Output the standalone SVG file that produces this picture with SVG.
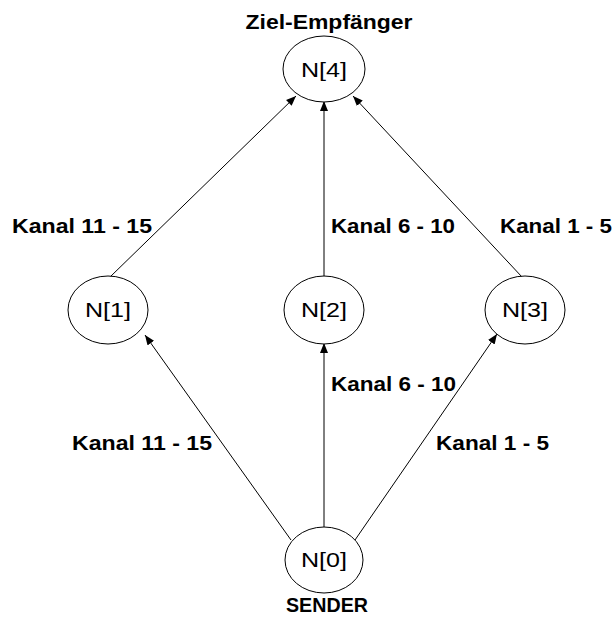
<svg xmlns="http://www.w3.org/2000/svg" width="614" height="617" viewBox="0 0 614 617">
  <style>
    .node ellipse { fill: #ffffff; stroke: #000000; stroke-width: 1; }
    .nlabel { font-family: "Liberation Sans", Arial, sans-serif; font-size: 21px; fill: #000000; text-anchor: middle; }
    .lbl { font-family: "Liberation Sans", Arial, sans-serif; font-size: 21px; font-weight: bold; fill: #000000; }
    .edges line { stroke: #000000; stroke-width: 1; marker-end: url(#arrow); }
  </style>
  <defs>
    <marker id="arrow" viewBox="0 0 10 10" refX="10" refY="5" markerWidth="10" markerHeight="10" markerUnits="userSpaceOnUse" orient="auto">
      <path d="M0,1 L10,5 L0,9 z" fill="#000000"/>
    </marker>
  </defs>
  <rect width="614" height="617" fill="#ffffff"/>

  <!-- connectors -->
  <g id="edges" class="edges">
    <line x1="291" y1="540" x2="145" y2="335"/>
    <line x1="324" y1="527" x2="324" y2="343"/>
    <line x1="355" y1="540" x2="497" y2="334"/>
    <line x1="110" y1="277" x2="296" y2="96"/>
    <line x1="324" y1="277" x2="324" y2="101"/>
    <line x1="522" y1="277" x2="353" y2="96"/>
  </g>

  <!-- edge labels -->
  <g id="labels">
    <text class="lbl" x="12" y="233" textLength="140" lengthAdjust="spacingAndGlyphs">Kanal 11 - 15</text>
    <text class="lbl" x="331" y="233" textLength="124" lengthAdjust="spacingAndGlyphs">Kanal 6 - 10</text>
    <text class="lbl" x="500" y="233" textLength="112" lengthAdjust="spacingAndGlyphs">Kanal 1 - 5</text>
    <text class="lbl" x="331" y="391" textLength="125" lengthAdjust="spacingAndGlyphs">Kanal 6 - 10</text>
    <text class="lbl" x="72" y="450" textLength="140" lengthAdjust="spacingAndGlyphs">Kanal 11 - 15</text>
    <text class="lbl" x="436" y="450" textLength="113" lengthAdjust="spacingAndGlyphs">Kanal 1 - 5</text>
  </g>

  <g id="n4" class="node">
    <text class="lbl" x="329" y="29" text-anchor="middle" textLength="167" lengthAdjust="spacingAndGlyphs">Ziel-Empfänger</text>
    <ellipse cx="324" cy="69" rx="41" ry="33"/>
    <text class="nlabel" x="324" y="77" textLength="46" lengthAdjust="spacingAndGlyphs">N[4]</text>
  </g>
  <g id="n1" class="node">
    <ellipse cx="108" cy="310" rx="40" ry="34"/>
    <text class="nlabel" x="108" y="317" textLength="46" lengthAdjust="spacingAndGlyphs">N[1]</text>
  </g>
  <g id="n2" class="node">
    <ellipse cx="324" cy="310" rx="40" ry="34"/>
    <text class="nlabel" x="324" y="317" textLength="46" lengthAdjust="spacingAndGlyphs">N[2]</text>
  </g>
  <g id="n3" class="node">
    <ellipse cx="525" cy="310" rx="40" ry="34"/>
    <text class="nlabel" x="525" y="317" textLength="46" lengthAdjust="spacingAndGlyphs">N[3]</text>
  </g>
  <g id="n0" class="node">
    <ellipse cx="324" cy="560" rx="39" ry="33"/>
    <text class="nlabel" x="324" y="567" textLength="46" lengthAdjust="spacingAndGlyphs">N[0]</text>
    <text class="lbl" x="327" y="612" text-anchor="middle" textLength="82" lengthAdjust="spacingAndGlyphs">SENDER</text>
  </g>
</svg>
